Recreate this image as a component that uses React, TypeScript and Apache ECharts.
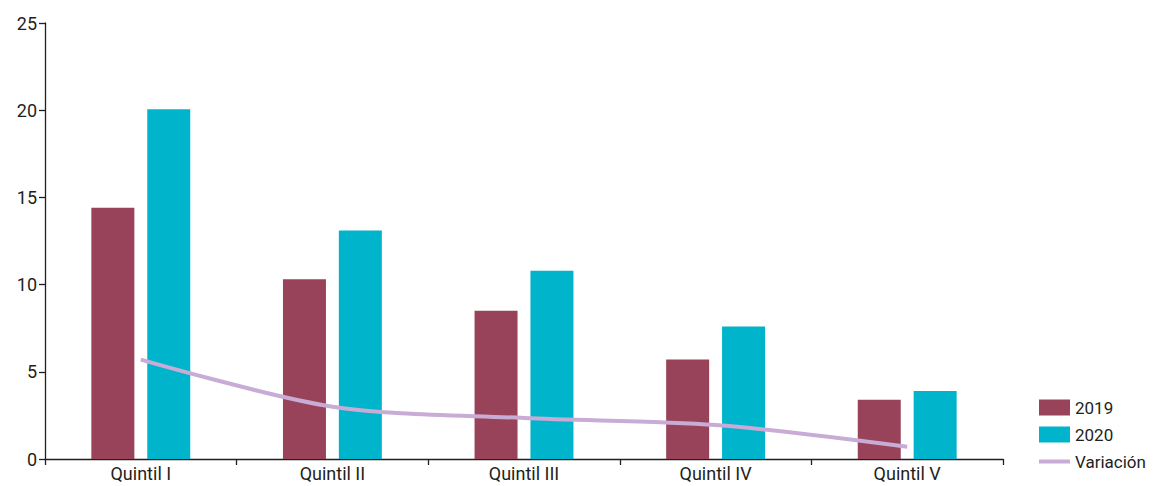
import React, { useEffect, useRef } from "react";
import * as echarts from "echarts";

const categories = ["Quintil I", "Quintil II", "Quintil III", "Quintil IV", "Quintil V"];
const values2019 = [14.4, 10.3, 8.5, 5.7, 3.4];
const values2020 = [20.05, 13.1, 10.8, 7.6, 3.9];
const variacion = [5.7, 3.0, 2.35, 1.95, 0.7];
const yTicks = { min: 0, max: 25, interval: 5 };

const FONT = "Roboto, 'Liberation Sans Narrow', sans-serif";
const TEXT = "#231f20";

export default function App() {
  const ref = useRef<HTMLDivElement>(null);
  useEffect(() => {
    if (!ref.current) return;
    const chart = echarts.init(ref.current, undefined, { renderer: "svg" });
    chart.setOption({
      animation: false,
      textStyle: { fontFamily: FONT },
      grid: { left: 45, right: 150, top: 23, bottom: 27, containLabel: false },
      legend: {
        orient: "vertical",
        left: 1039,
        top: 399,
        padding: 0,
        itemWidth: 31,
        itemHeight: 16,
        itemGap: 10,
        textStyle: { fontFamily: FONT, fontSize: 17, color: TEXT, lineHeight: 16 },
        data: [
          { name: "2019", icon: "rect" },
          { name: "2020", icon: "rect" },
          { name: "Variación", icon: "path://M0,0H31V4H0Z" },
        ],
      },
      xAxis: {
        type: "category",
        data: categories,
        axisLine: { lineStyle: { color: TEXT, width: 1.3 } },
        axisTick: { show: true, length: 6, lineStyle: { color: TEXT, width: 1.3 } },
        axisLabel: { fontFamily: FONT, fontSize: 18, color: TEXT, margin: 5 },
        splitLine: { show: false },
      },
      yAxis: {
        type: "value",
        min: yTicks.min,
        max: yTicks.max,
        interval: yTicks.interval,
        axisLine: { show: true, lineStyle: { color: TEXT, width: 1.3 } },
        axisTick: { show: true, length: 6, lineStyle: { color: TEXT, width: 1.3 } },
        axisLabel: { fontFamily: FONT, fontSize: 18, color: TEXT, margin: 8 },
        splitLine: { show: false },
      },
      series: [
        {
          name: "2019",
          type: "bar",
          data: values2019,
          barWidth: 43,
          barGap: "30%",
          itemStyle: { color: "#98435a" },
        },
        {
          name: "2020",
          type: "bar",
          data: values2020,
          barWidth: 43,
          itemStyle: { color: "#00b4cb" },
        },
        {
          name: "Variación",
          type: "line",
          data: variacion,
          smooth: 0.3,
          symbol: "none",
          showSymbol: false,
          lineStyle: { color: "#c8acd6", width: 4 },
          itemStyle: { color: "#c8acd6" },
        },
      ],
    });
    return () => chart.dispose();
  }, []);
  return <div ref={ref} style={{ width: 1153, height: 486, position: "absolute", left: 0, top: 0 }} />;
}
